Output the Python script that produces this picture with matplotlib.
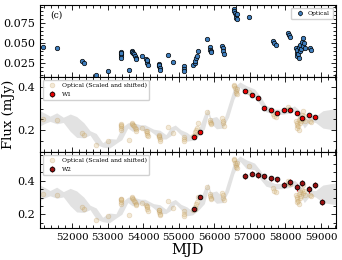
import numpy as np
import matplotlib
matplotlib.use("Agg")
import matplotlib.pyplot as plt
from matplotlib.ticker import MultipleLocator, AutoMinorLocator

plt.rcParams['font.family'] = ['DejaVu Serif']
plt.rcParams['mathtext.fontset'] = 'dejavuserif'

# ---------------- data ----------------
opt_mjd = [51175, 51568, 52281, 52326, 52675, 53020,
           53370, 53375, 53380, 53385, 53390, 53590,
           53694, 53700, 53720, 53740, 53760, 53790, 53806, 53967,
           54080, 54100, 54110, 54120, 54125,
           54433, 54445, 54450, 54460, 54473, 54705, 54837,
           55135, 55140, 55145, 55399,
           55445, 55470, 55490, 55510, 55540, 55793,
           55866, 55880, 55900, 55913,
           56214, 56230, 56245, 56259,
           56550, 56560, 56580, 56600, 56620, 56640, 56644, 56961,
           57663, 57690, 57720, 58067, 58090, 58113,
           58300, 58310, 58320, 58330, 58350, 58370, 58380, 58400,
           58420, 58440, 58460, 58480, 58500, 58520, 58535,
           58694, 58710]
opt_flux = [0.0457, 0.0441, 0.0273, 0.0247, 0.0100, 0.0154,
            0.0390, 0.0365, 0.0340, 0.0314, 0.0380, 0.0167,
            0.0407, 0.0395, 0.0380, 0.0360, 0.0340, 0.0320, 0.0302, 0.0336,
            0.0300, 0.0270, 0.0245, 0.0290, 0.0226,
            0.0239, 0.0210, 0.0230, 0.0185, 0.0163, 0.0356, 0.0268,
            0.0217, 0.0180, 0.0154, 0.0230,
            0.0247, 0.0280, 0.0310, 0.0340, 0.0407, 0.0554,
            0.0450, 0.0420, 0.0400, 0.0386,
            0.0470, 0.0440, 0.0400, 0.0365,
            0.0933, 0.0910, 0.0880, 0.0850, 0.0820, 0.0870, 0.0807, 0.0832,
            0.0533, 0.0500, 0.0482, 0.0626, 0.0600, 0.0583,
            0.0440, 0.0380, 0.0340, 0.0410, 0.0360, 0.0310, 0.0450, 0.0400,
            0.0480, 0.0430, 0.0510, 0.0460, 0.0570, 0.0500, 0.0440,
            0.0440, 0.0420]
opt_err = 0.0015

wise_mjd = [55416, 55604, 56849, 57057, 57225, 57394, 57599, 57767,
            57956, 58132, 58310, 58478, 58675, 58843, 59030]
w1_flux = [0.168, 0.194, 0.379, 0.363, 0.348, 0.302, 0.294, 0.279,
           0.291, 0.294, 0.280, 0.255, 0.268, 0.260]
w1_err = [0.004, 0.004, 0.005, 0.005, 0.005, 0.005, 0.005, 0.005,
          0.005, 0.005, 0.005, 0.005, 0.005, 0.005]
w2_flux = [0.232, 0.302, 0.428, 0.440, 0.434, 0.426, 0.414, 0.408,
           0.374, 0.390, 0.360, 0.386, 0.348, 0.376, 0.274]
w2_err = [0.012, 0.012, 0.015, 0.015, 0.015, 0.015, 0.015, 0.015,
          0.018, 0.018, 0.018, 0.018, 0.018, 0.018, 0.020]

# model band (optical units): knot MJD, centre, half width
band_mjd = [51100, 51250, 51382, 51570, 51756, 51950, 52130, 52330, 52506,
            52680, 52860, 53050, 53236, 53400, 53568, 53700, 53930, 54050,
            54172, 54292, 54470, 54640, 54780, 54902, 55062, 55230, 55390,
            55540, 55720, 55830, 55900, 56060, 56237, 56400, 56550, 56720,
            56900, 57130, 57300, 57450, 57700, 57900, 58100, 58253, 58400,
            58530, 58700, 58850, 59050, 59420]
band_mid = [0.0470, 0.0470, 0.0464, 0.0470, 0.0449, 0.0410, 0.0351, 0.0306, 0.0270,
            0.0187, 0.0106, 0.0127, 0.0154, 0.0261, 0.0372, 0.0351, 0.0351, 0.0336,
            0.0327, 0.0291, 0.0246, 0.0216, 0.0291, 0.0348, 0.0276, 0.0216, 0.0193,
            0.0261, 0.0425, 0.0560, 0.0440, 0.0410, 0.0372, 0.0575, 0.0813, 0.0933,
            0.0858, 0.0828, 0.0709, 0.0604, 0.0560, 0.0560, 0.0575, 0.0604, 0.0515,
            0.0396, 0.0470, 0.0455, 0.0455, 0.0455]
band_half = [0.0104, 0.0066, 0.0036, 0.0075, 0.0036, 0.0119, 0.0143, 0.0104, 0.0030,
             0.0075, 0.0030, 0.0066, 0.0030, 0.0084, 0.0036, 0.0060, 0.0030, 0.0045,
             0.0024, 0.0030, 0.0060, 0.0030, 0.0060, 0.0030, 0.0036, 0.0060, 0.0024,
             0.0036, 0.0104, 0.0036, 0.0036, 0.0084, 0.0036, 0.0090, 0.0084, 0.0036,
             0.0060, 0.0045, 0.0060, 0.0045, 0.0036, 0.0036, 0.0036, 0.0036, 0.0060,
             0.0060, 0.0036, 0.0045, 0.0119, 0.0149]

# scaling of optical onto the WISE panels
W1_SCALE, W1_SHIFT = 3.35, 0.0975
W2_SCALE, W2_SHIFT = 4.35, 0.1245

xlim = (51100, 59420)

# ---------------- figure ----------------
fig = plt.figure(figsize=(3.42, 2.60), dpi=100)
L, R = 40 / 342, 336 / 342
def ypos(top_px, bot_px):
    return [L, 1 - bot_px / 260, R - L, (bot_px - top_px) / 260]
ax1 = fig.add_axes(ypos(5, 77))
ax2 = fig.add_axes(ypos(77, 152))
ax3 = fig.add_axes(ypos(152, 228))

opt_mjd_a = np.array(opt_mjd)
opt_flux_a = np.array(opt_flux)
bm = np.array(band_mjd)
bc = np.array(band_mid)
bh = np.array(band_half)

# top panel
ax1.errorbar(opt_mjd_a, opt_flux_a, yerr=opt_err, fmt='o', ms=3.2,
             mfc='#3f7fbf', mec='black', mew=0.5, ecolor='#8fc0e8',
             elinewidth=0.8, capsize=0, label='Optical', zorder=3)
ax1.set_ylim(0.0075, 0.098)
ax1.yaxis.set_major_locator(MultipleLocator(0.025))
ax1.yaxis.set_minor_locator(AutoMinorLocator(5))
ax1.text(0.035, 0.86, '(c)', transform=ax1.transAxes, fontsize=6.5,
         va='center', ha='left')
ax1.legend(loc='upper right', fontsize=4.3, handletextpad=0.4,
           borderpad=0.5, framealpha=0.9, edgecolor='#cccccc', markerscale=0.9)

def wise_panel(ax, scale, shift, mjd, flux, err, label, fc, ylim):
    ax.fill_between(bm, scale * (bc - bh) + shift, scale * (bc + bh) + shift,
                    color='#e2e2e2', lw=0, zorder=1)
    ax.plot(opt_mjd_a, scale * opt_flux_a + shift, 'o', ms=3.4,
            mfc='#d8b878', mec='#b89050', mew=0.5, alpha=0.3,
            label='Optical (Scaled and shifted)', zorder=2)
    ax.errorbar(mjd, flux, yerr=err, fmt='o', ms=3.4, mfc=fc, mec='black',
                mew=0.6, ecolor='#d01010', elinewidth=0.8, capsize=0,
                label=label, zorder=4)
    ax.set_ylim(*ylim)
    ax.yaxis.set_major_locator(MultipleLocator(0.2))
    ax.yaxis.set_minor_locator(AutoMinorLocator(4))
    ax.legend(loc='upper left', fontsize=4.3, handletextpad=0.6,
              borderpad=0.5, framealpha=0.9, edgecolor='#cccccc',
              labelspacing=0.6)

wise_panel(ax2, W1_SCALE, W1_SHIFT, wise_mjd[:len(w1_flux)], w1_flux, w1_err,
           'W1', '#e80000', (0.10, 0.445))
wise_panel(ax3, W2_SCALE, W2_SHIFT, wise_mjd, w2_flux, w2_err,
           'W2', '#9a1010', (0.12, 0.57))

for ax in (ax1, ax2, ax3):
    ax.set_xlim(*xlim)
    ax.xaxis.set_major_locator(MultipleLocator(1000))
    ax.xaxis.set_minor_locator(AutoMinorLocator(5))
    ax.tick_params(which='both', direction='in', top=True, right=True,
                   labelsize=8, width=0.6)
    ax.tick_params(which='major', length=3.5)
    ax.tick_params(which='minor', length=2)
    for s in ax.spines.values():
        s.set_linewidth(0.8)
ax1.tick_params(labelbottom=False)
ax2.tick_params(labelbottom=False)
ax3.tick_params(axis='x', labelsize=7.4)

ax3.set_xlabel('MJD', fontsize=10.5, labelpad=1)
fig.text(0.025, (1 - 152 / 260 + 1 - 77 / 260) / 2 + 0.0, 'Flux (mJy)',
         rotation=90, fontsize=9.5, va='center', ha='center')

fig.savefig('out.png', dpi=100)
